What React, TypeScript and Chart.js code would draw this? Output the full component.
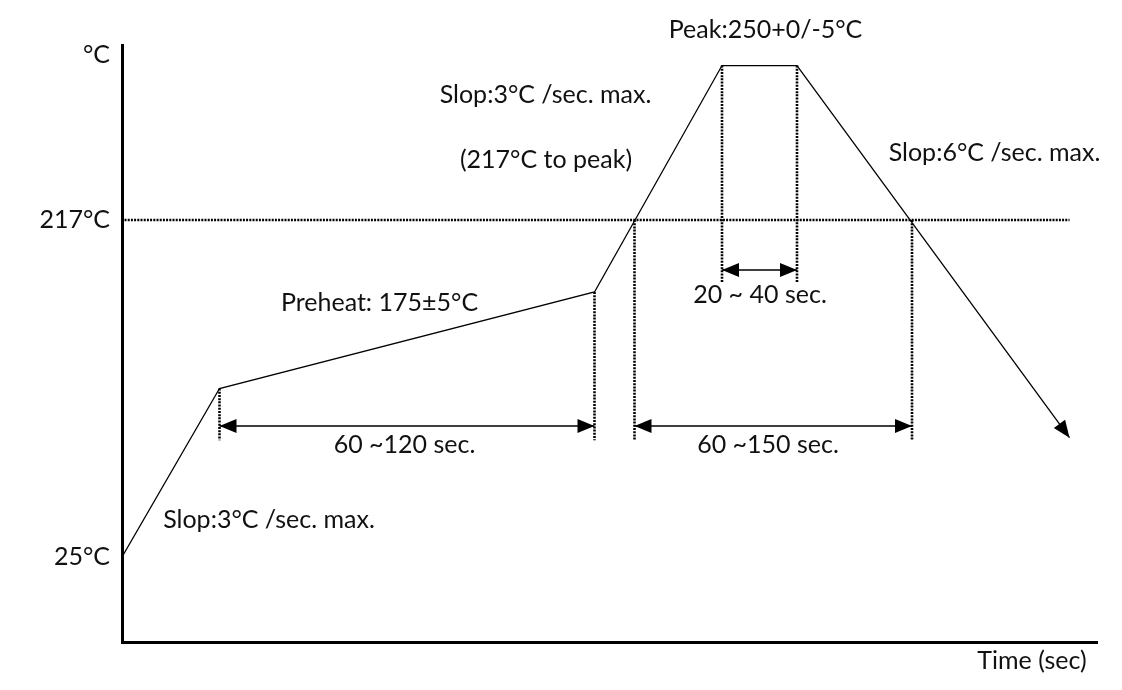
import React, { useEffect, useRef } from "react";
import { Chart, registerables } from "chart.js";

Chart.register(...registerables);

// ---- Data (schematic reflow profile; x = time units, y = °C units of the drawing) ----
const PROFILE_TIME = [0, 39, 189, 240, 270, 379];
const PROFILE_TEMP = [25, 121, 176, 305, 305, 93];

const LIQUIDUS_TEMP = 217;
const LIQUIDUS_TIME = [1, 379];

const MARKER_TIME = [39, 189, 205, 240, 270, 316];
const MARKER_TOP = [121, 176, 217, 305, 305, 217];
const MARKER_BOTTOM = [91.5, 91.5, 91.5, 181.5, 181.5, 91.5];

const SPAN_FROM = [39, 205, 240];
const SPAN_TO = [189, 316, 270];
const SPAN_LEVEL = [99.6, 99.6, 188.5];

const Y_TICK_VALUES = [25, 217, 311];
const Y_TICK_LABELS = ["25°C", "217°C", "°C"];

const NOTE_TEXT = [
  "Peak:250+0/-5°C",
  "Slop:3°C /sec. max.",
  "(217°C to peak)",
  "Slop:6°C /sec. max.",
  "Preheat: 175±5°C",
  "60 ~120 sec.",
  "20 ~ 40 sec.",
  "60 ~150 sec.",
  "Slop:3°C /sec. max.",
  "Time (sec)",
];
const NOTE_TIME = [257.4, 169.4, 169.6, 349, 103, 113, 255.2, 258.4, 58.8, 364];
const NOTE_TEMP = [325.2, 288.2, 251.2, 255.2, 169.7, 88.8, 174.3, 88.8, 46.1, -34];

const X_MIN = 0;
const X_MAX = 390;
const Y_MIN = -23.4;
const Y_MAX = 316.7;

const FONT = "Lato, 'Open Sans', sans-serif";
const FONT_SIZE = 25;

function drawHead(ctx: CanvasRenderingContext2D, x: number, y: number, angle: number) {
  const len = 17;
  const half = 7;
  ctx.save();
  ctx.translate(x, y);
  ctx.rotate(angle);
  ctx.beginPath();
  ctx.moveTo(0, 0);
  ctx.lineTo(-len, -half);
  ctx.lineTo(-len, half);
  ctx.closePath();
  ctx.fillStyle = "#000";
  ctx.fill();
  ctx.restore();
}

const annotationPlugin = {
  id: "reflowAnnotations",
  afterDatasetsDraw(chart: any) {
    const ctx = chart.ctx as CanvasRenderingContext2D;
    const xs = chart.scales.x;
    const ys = chart.scales.y;
    for (let i = 0; i < SPAN_FROM.length; i++) {
      const x1 = xs.getPixelForValue(SPAN_FROM[i]);
      const x2 = xs.getPixelForValue(SPAN_TO[i]);
      const y = ys.getPixelForValue(SPAN_LEVEL[i]);
      drawHead(ctx, x1, y, Math.PI);
      drawHead(ctx, x2, y, 0);
    }
    const n = PROFILE_TIME.length;
    const ax = xs.getPixelForValue(PROFILE_TIME[n - 2]);
    const ay = ys.getPixelForValue(PROFILE_TEMP[n - 2]);
    const bx = xs.getPixelForValue(PROFILE_TIME[n - 1]);
    const by = ys.getPixelForValue(PROFILE_TEMP[n - 1]);
    drawHead(ctx, bx, by, Math.atan2(by - ay, bx - ax));
  },
  afterDraw(chart: any) {
    const ctx = chart.ctx as CanvasRenderingContext2D;
    const xs = chart.scales.x;
    const ys = chart.scales.y;
    ctx.save();
    ctx.font = `${FONT_SIZE}px ${FONT}`;
    ctx.fillStyle = "#111";
    ctx.textAlign = "center";
    ctx.textBaseline = "middle";
    for (let i = 0; i < NOTE_TEXT.length; i++) {
      ctx.fillText(NOTE_TEXT[i], xs.getPixelForValue(NOTE_TIME[i]), ys.getPixelForValue(NOTE_TEMP[i]));
    }
    ctx.restore();
  },
};

export default function App() {
  const canvasRef = useRef<HTMLCanvasElement | null>(null);

  useEffect(() => {
    if (!canvasRef.current) return;

    const profile = PROFILE_TIME.map((t, i) => ({ x: t, y: PROFILE_TEMP[i] }));
    const liquidus = LIQUIDUS_TIME.map((t) => ({ x: t, y: LIQUIDUS_TEMP }));
    const markers: any[] = [];
    MARKER_TIME.forEach((t, i) => {
      markers.push({ x: t, y: MARKER_TOP[i] }, { x: t, y: MARKER_BOTTOM[i] }, { x: t, y: null });
    });
    const spans: any[] = [];
    SPAN_FROM.forEach((f, i) => {
      spans.push({ x: f, y: SPAN_LEVEL[i] }, { x: SPAN_TO[i], y: SPAN_LEVEL[i] }, { x: SPAN_TO[i], y: null });
    });

    const chart = new Chart(canvasRef.current, {
      type: "line",
      data: {
        datasets: [
          {
            label: "Profile",
            data: profile,
            borderColor: "#000",
            borderWidth: 1.3,
            pointRadius: 0,
            tension: 0,
          },
          {
            label: "217°C",
            data: liquidus,
            borderColor: "#000",
            borderWidth: 2.6,
            borderDash: [2, 1.2],
            pointRadius: 0,
          },
          {
            label: "Markers",
            data: markers,
            borderColor: "#000",
            borderWidth: 2.6,
            borderDash: [2, 1.2],
            pointRadius: 0,
            spanGaps: false,
          },
          {
            label: "Spans",
            data: spans,
            borderColor: "#000",
            borderWidth: 1.5,
            pointRadius: 0,
            spanGaps: false,
          },
        ],
      },
      options: {
        responsive: false,
        animation: false,
        events: [],
        layout: { padding: { top: 45, right: 25, left: 0, bottom: 0 } },
        plugins: {
          legend: { display: false },
          tooltip: { enabled: false },
        },
        scales: {
          x: {
            type: "linear",
            min: X_MIN,
            max: X_MAX,
            grid: { display: false, drawTicks: false },
            border: { display: true, width: 3, color: "#000" },
            ticks: { display: false },
            title: { display: false, text: "Time (sec)" },
            afterFit: (s: any) => {
              s.height = 48;
            },
          },
          y: {
            type: "linear",
            min: Y_MIN,
            max: Y_MAX,
            grid: { display: false, drawTicks: false },
            border: { display: true, width: 3, color: "#000" },
            afterBuildTicks: (s: any) => {
              s.ticks = Y_TICK_VALUES.map((v) => ({ value: v }));
            },
            ticks: {
              padding: 12,
              color: "#111",
              font: { family: FONT, size: FONT_SIZE },
              callback: (v: any) => {
                const i = Y_TICK_VALUES.indexOf(Number(v));
                return i >= 0 ? Y_TICK_LABELS[i] : "";
              },
            },
            afterFit: (s: any) => {
              s.width = 122;
            },
          },
        },
      },
      plugins: [annotationPlugin],
    });

    return () => chart.destroy();
  }, []);

  return (
    <div style={{ position: "fixed", left: 0, top: 0, width: 1122, height: 690, background: "#fff" }}>
      <canvas ref={canvasRef} width={1122} height={690} />
    </div>
  );
}
